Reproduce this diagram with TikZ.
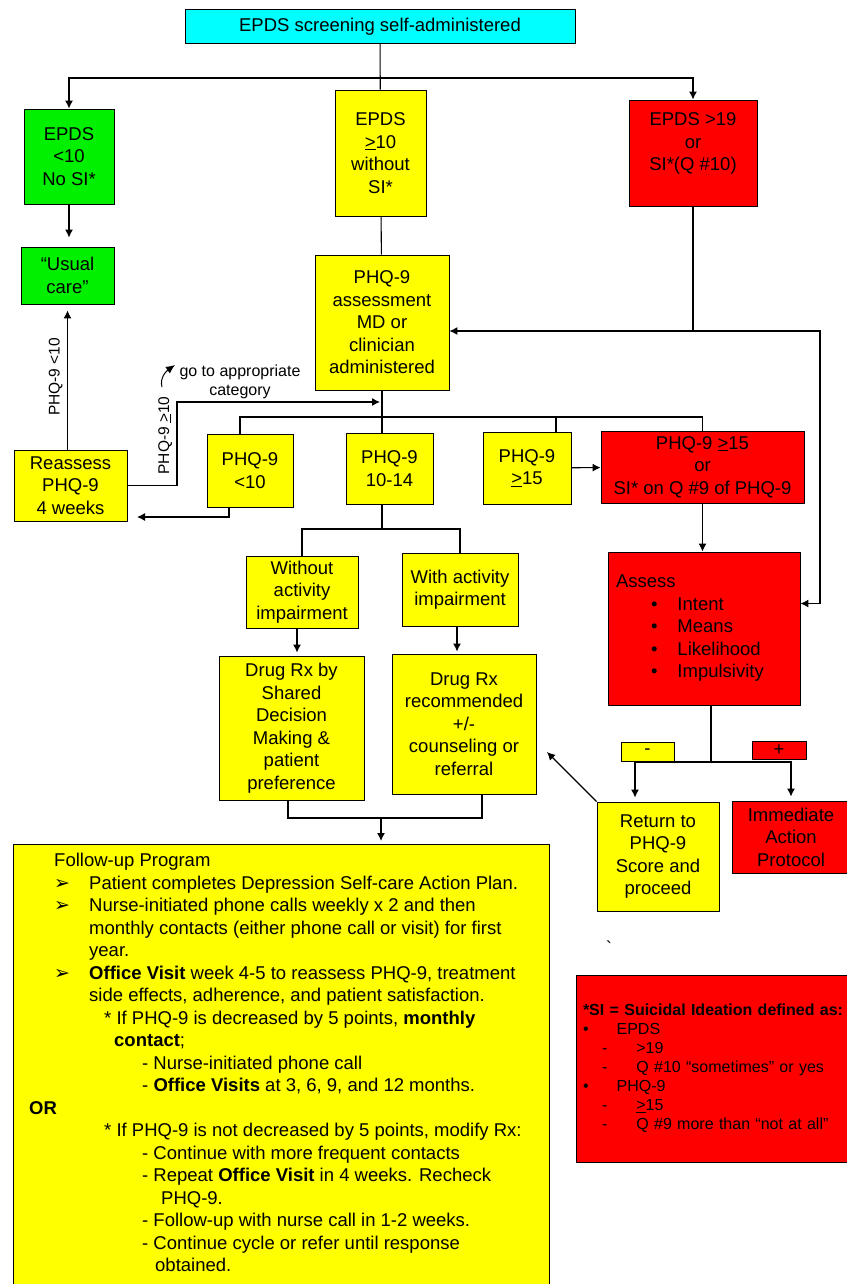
\documentclass[tikz,border=0pt]{standalone}
\usepackage{fontspec}
\setmainfont{Liberation Sans}
\newfontfamily\dingfont{DejaVu Sans}
\usetikzlibrary{arrows.meta}

\definecolor{boxcyan}{RGB}{0,255,255}
\definecolor{boxgreen}{RGB}{0,240,0}
\definecolor{boxyellow}{RGB}{255,255,0}
\definecolor{boxred}{RGB}{255,0,0}

\newcommand{\boxfont}{\fontsize{18.5}{22.5}\selectfont}
\newcommand{\notefont}{\fontsize{16}{19}\selectfont}
\newcommand{\labelfont}{\fontsize{15.5}{18}\selectfont}
\newcommand{\fuitem}{\hspace*{25pt}\makebox[35pt][l]{\dingfont\fontsize{19}{19}\selectfont ➢}}
\newcommand{\sidash}{\hspace*{19pt}-\hspace{29pt}}
\newcommand{\sibullet}{\textbullet\hspace{28pt}}
\newcommand{\asitem}{\hspace*{35pt}\textbullet\hspace{20pt}}

\begin{document}
\begin{tikzpicture}[
  x=1pt, y=-1pt, >={Latex[length=8pt,width=8pt]},
  every node/.style={font=\boxfont},
  box/.style={draw, line width=0.9pt, align=center, inner sep=2pt},
  cyanbox/.style={box, fill=boxcyan},
  grnbox/.style={box, fill=boxgreen},
  yelbox/.style={box, fill=boxyellow},
  redbox/.style={box, fill=boxred},
  link/.style={line width=1.1pt}
]
  \useasboundingbox (0,0) rectangle (846,1284);

  % screening and first split
  \node[cyanbox, minimum width=390, minimum height=34] (screen) at (380,26.5) {EPDS screening self-administered};
  \node[grnbox, minimum width=90, minimum height=95] (epdslow) at (69,156.5) {EPDS\\<10\\No SI*};
  \node[grnbox, minimum width=93, minimum height=57] (usual) at (67.5,275.5) {“Usual\\care”};
  \node[yelbox, minimum width=91, minimum height=126] (epdsmid) at (380.5,153) {EPDS\\\underline{>}10\\without\\SI*};
  \node[redbox, minimum width=128, minimum height=106] (epdshigh) at (693,153) {EPDS >19\\or\\SI*(Q \#10)\\\mbox{}};
  \node[yelbox, minimum width=134, minimum height=135] (phqassess) at (382,322.5) {PHQ-9\\assessment\\MD or\\clinician\\administered};

  % PHQ-9 categories
  \node[yelbox, minimum width=113, minimum height=71] (reassess) at (70.5,485.5) {Reassess\\PHQ-9\\4 weeks};
  \node[yelbox, minimum width=86, minimum height=73] (phqlow) at (250,470.5) {PHQ-9\\<10};
  \node[yelbox, minimum width=87, minimum height=71] (phqmod) at (389.5,468.5) {PHQ-9\\10-14};
  \node[yelbox, minimum width=88, minimum height=72] (phqhigh) at (527,468) {PHQ-9\\\underline{>}15};
  \node[redbox, minimum width=203, minimum height=72] (phqsevere) at (702.5,467) {PHQ-9 \underline{>}15\\or\\SI* on Q \#9 of PHQ-9};
  \node[redbox, minimum height=153, text width=176, inner xsep=8, align=left] (assess) at (704,628.5)
    {Assess\\ \asitem Intent\\ \asitem Means\\ \asitem Likelihood\\ \asitem Impulsivity};
  \node[font=\notefont, align=center] (goto) at (240,382) {go to appropriate\\category};

  % moderate branch
  \node[yelbox, minimum width=112, minimum height=72] (without) at (302,592) {Without\\activity\\impairment};
  \node[yelbox, minimum width=116, minimum height=73] (with) at (460,589.5) {With activity\\impairment};
  \node[yelbox, minimum width=145, minimum height=144] (drugshared) at (291.5,728) {Drug Rx by\\Shared\\Decision\\Making \&\\patient\\preference};
  \node[yelbox, minimum width=144, minimum height=140] (drugrec) at (464,724) {Drug Rx\\recommended\\+/-\\counseling or\\referral};

  % assessment outcome
  \node[yelbox, minimum width=53, minimum height=19, inner sep=0pt] (minus) at (647.5,751.5) {-};
  \node[redbox, minimum width=54, minimum height=18, inner sep=0pt] (plus) at (779,750) {+};
  \node[yelbox, minimum width=122, minimum height=109] (returnbox) at (658,856.5) {Return to\\PHQ-9\\Score and\\proceed};
  \node[redbox, minimum width=118, minimum height=72] (immediate) at (791,837) {Immediate\\Action\\Protocol};
  \node (tick) at (609,948) {\textasciigrave};

  % follow-up program
  \node[yelbox, minimum width=536, minimum height=460, anchor=north west] (followup) at (13,844) {};
  \node[anchor=north west, inner sep=0pt, align=left] (followtext) at (29,853) {%
    \hspace*{25pt}Follow-up Program\\
    \fuitem Patient completes Depression Self-care Action Plan.\\
    \fuitem Nurse-initiated phone calls weekly x 2 and then\\
    \hspace*{60pt}monthly contacts (either phone call or visit) for first\\
    \hspace*{60pt}year.\\
    \fuitem \textbf{Office Visit} week 4-5 to reassess PHQ-9, treatment\\
    \hspace*{60pt}side effects, adherence, and patient satisfaction.\\
    \hspace*{75pt}* If PHQ-9 is decreased by 5 points, \textbf{monthly}\\
    \hspace*{85pt}\textbf{contact};\\
    \hspace*{113pt}- Nurse-initiated phone call\\
    \hspace*{113pt}- \textbf{Office Visits} at 3, 6, 9, and 12 months.\\
    \textbf{OR}\\
    \hspace*{75pt}* If PHQ-9 is not decreased by 5 points, modify Rx:\\
    \hspace*{113pt}- Continue with more frequent contacts\\
    \hspace*{113pt}- Repeat \textbf{Office Visit} in 4 weeks. Recheck\\
    \hspace*{132pt}PHQ-9.\\
    \hspace*{113pt}- Follow-up with nurse call in 1-2 weeks.\\
    \hspace*{113pt}- Continue cycle or refer until response\\
    \hspace*{126pt}obtained.};

  % SI definition
  \node[redbox, text width=272, minimum height=187, inner xsep=7, align=left, font=\notefont] (sidef) at (719,1068.5) {%
    \textbf{*SI = Suicidal Ideation defined as:}\\
    \sibullet EPDS\\
    \sidash >19\\
    \sidash Q \#10 “sometimes” or yes\\
    \sibullet PHQ-9\\
    \sidash \underline{>}15\\
    \sidash Q \#9 more than “not at all”};

  \coordinate (split) at (380,78);
  \coordinate (redjoin) at (693,331);
  \coordinate (rightbend) at (820,331);
  \coordinate (reroute) at (177,402);
  \coordinate (reentry) at (380,402);
  \coordinate (catsplit) at (383,417);
  \coordinate (lowback) at (137,517);
  \coordinate (modsplit) at (382,529);
  \coordinate (drugjoin) at (381,818);
  \coordinate (assesssplit) at (711,762);
  \coordinate (backtip) at (547,752);
  \coordinate (curvestart) at (162,387);
  \coordinate (curveend) at (175,365);

  \draw[link] (screen) -- (epdsmid);
  \draw[link, ->] (split) -| (epdslow);
  \draw[link, ->] (split) -| (epdshigh);
  \draw[link, ->, shorten >=9pt] (epdslow.south) -- (epdslow.south |- usual.north);
  \draw[link] (epdsmid) -- (phqassess);
  \draw[link] (epdshigh) -- (redjoin);
  \draw[link, ->] (redjoin) -- (redjoin -| phqassess.east);
  \draw[link, ->] (redjoin) -- (rightbend) |- ([yshift=25pt]assess.east);

  \draw[link] (phqassess.south) -- (phqassess.south |- phqmod.north);
  \draw[link] ([xshift=-10pt]phqlow.north) |- (phqsevere.north |- catsplit) -- (phqsevere.north);
  \draw[link] ([xshift=29pt]phqhigh.north) -- ([xshift=29pt]phqhigh.north |- catsplit);
  \draw[link, ->, shorten >=6pt] (reassess.north -| usual.south) --
    node[midway, sloped, above=1pt, font=\labelfont] {PHQ-9 <10} (usual.south);
  \draw[link, ->] (reassess.east) -| node[pos=0.8, sloped, above=1pt, font=\labelfont] {PHQ-9 \underline{>}10} (reroute) -- (reentry);
  \draw[line width=1pt, -{Latex[length=9pt,width=8pt]}] (curvestart) to[out=105, in=215] (curveend);
  \draw[link, ->] ([xshift=-21pt]phqlow.south) |- (lowback);
  \draw[link, ->] (phqhigh) -- (phqsevere);

  \draw[link] ([xshift=-7.5pt]phqmod.south) -- (modsplit);
  \draw[link] (without.north) |- (modsplit -| with.north) -- (with.north);
  \draw[link, ->, shorten >=3pt] ([xshift=-5pt]without.south) -- ([xshift=-5pt]without.south |- drugshared.north);
  \draw[link, ->, shorten >=2pt] ([xshift=-3pt]with.south) -- ([xshift=-3pt]with.south |- drugrec.north);
  \draw[link] ([xshift=-3.5pt]drugshared.south) |- ([xshift=18pt]drugrec.south |- drugjoin) -- ([xshift=18pt]drugrec.south);
  \draw[link, ->, shorten >=3pt] (drugjoin) -- (drugjoin |- followup.north);

  \draw[link, ->] (phqsevere.south) -- (phqsevere.south |- assess.north);
  \draw[link] ([xshift=7pt]assess.south) -- (assesssplit);
  \draw[link, ->, shorten >=4pt] (assesssplit) -| ([xshift=-23pt]returnbox.north);
  \draw[link, ->, shorten >=4pt] (assesssplit) -| (immediate.north);
  \draw[link, ->] (returnbox.north west) -- (backtip);
\end{tikzpicture}
\end{document}
